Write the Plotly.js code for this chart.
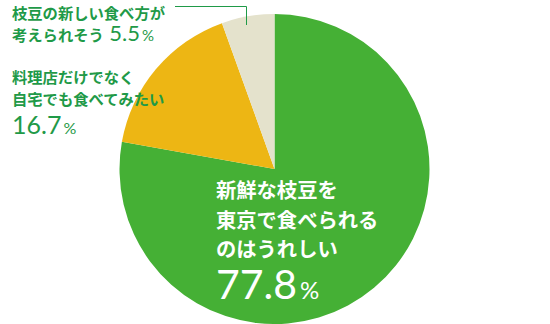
<!DOCTYPE html>
<html>
<head>
<meta charset="utf-8">
<script src="https://cdn.plot.ly/plotly-3.0.1.min.js"></script>
<style>html,body{margin:0;padding:0;background:#fff;}#chart{width:550px;height:324px;}</style>
</head>
<body>
<div id="chart"></div>
<script>
// Data
const categories = [
  "新鮮な枝豆を東京で食べられるのはうれしい",
  "料理店だけでなく自宅でも食べてみたい",
  "枝豆の新しい食べ方が考えられそう"
];
const labelLines = [
  ["新鮮な枝豆を", "東京で食べられる", "のはうれしい"],
  ["料理店だけでなく", "自宅でも食べてみたい"],
  ["枝豆の新しい食べ方が", "考えられそう"]
];
const values = [77.8, 16.7, 5.5];
const colors = ["#45b035", "#edb614", "#e4e2cc"];

const W = 550, H = 324;
const px = x => x / W;
const py = y => 1 - y / H;
const JP = '"Noto Sans CJK JP", "Noto Sans", sans-serif';
const NUM = 'Lato, "Open Sans", "DejaVu Sans", sans-serif';
const textGreen = "#1f9a48";

const trace = {
  type: "pie",
  labels: categories,
  values: values,
  marker: {colors: colors, line: {width: 0}},
  sort: false,
  direction: "clockwise",
  rotation: 0,
  textinfo: "none",
  hoverinfo: "none",
  showlegend: false,
  domain: {x: [119 / W, 430 / W], y: [0, py(14)]}
};

function pct(v, small) {
  return v.toFixed(1) + "<span style='font-size:" + small + "px'>\u2009%</span>";
}

const ann = [];
function addLine(text, x, y, size, color, fam, weight, yanchor) {
  ann.push({text: text, x: px(x), y: py(y), xref: "paper", yref: "paper",
    xanchor: "left", yanchor: yanchor || "middle", showarrow: false, borderpad: 0,
    align: "left",
    font: {family: fam, size: size, color: color, weight: weight}});
}
// Large slice (inside, white)
const inY = [189, 219, 248];
labelLines[0].forEach((t, i) => addLine(t, 215, inY[i], 20.3, "#ffffff", JP, 700));
addLine(pct(values[0], 24), 215, 283, 41, "#ffffff", NUM, 400);
// Yellow slice label
const yY = [76, 98];
labelLines[1].forEach((t, i) => addLine(t, 11, yY[i], 15.3, textGreen, JP, 700));
addLine(pct(values[1], 16), 11, 124, 25, textGreen, NUM, 400);
// Beige slice label (one block: two lines, number inline)
const beigeText =
  "<span style='font-size:15.3px'>" + labelLines[2][0] + "</span><br>" +
  "<span style='font-size:15.3px'>" + labelLines[2][1] + "</span>" +
  "<span style='font-family:Lato, sans-serif;font-weight:400;font-size:22px'>\u2009\u2009" + values[2].toFixed(1) + "</span>" +
  "<span style='font-family:Lato, sans-serif;font-weight:400;font-size:15px'>\u2009%</span>";
addLine(beigeText, 11, 0, 17, textGreen, JP, 700, "top");

const layout = {
  width: W, height: H,
  margin: {l: 0, r: 0, t: 0, b: 0},
  paper_bgcolor: "#ffffff",
  annotations: ann,
  shapes: [
    {type: "line", xref: "paper", yref: "paper", x0: px(175), y0: py(6.5), x1: px(246.5), y1: py(6.5), line: {color: textGreen, width: 1}},
    {type: "line", xref: "paper", yref: "paper", x0: px(246.5), y0: py(6.5), x1: px(246.5), y1: py(25), line: {color: textGreen, width: 1}}
  ]
};
Plotly.newPlot("chart", [trace], layout, {displayModeBar: false, staticPlot: true});
</script>
</body>
</html>
